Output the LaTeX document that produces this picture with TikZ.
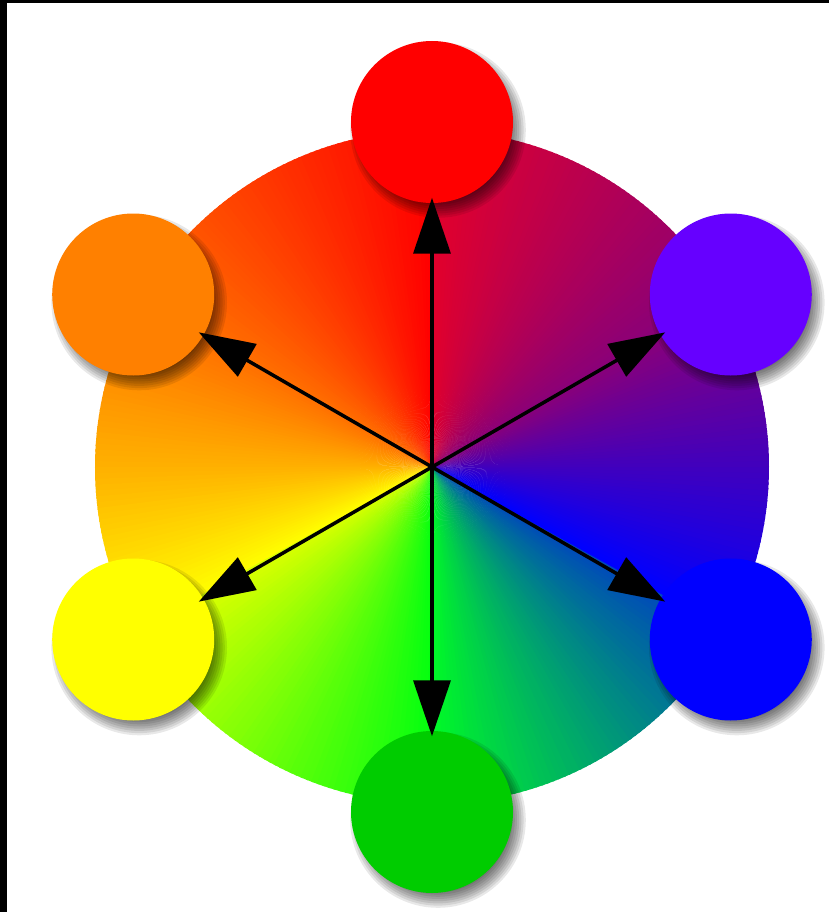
\documentclass[tikz,border=0pt]{standalone}
\definecolor{wRed}{HTML}{FF0000}
\definecolor{wOrange}{HTML}{FF7000}
\definecolor{wAmber}{HTML}{FFB200}
\definecolor{wYellow}{HTML}{FFFF00}
\definecolor{wLime}{HTML}{D8FF00}
\definecolor{wGreen}{HTML}{00FF10}
\definecolor{wGreenB}{HTML}{00F828}
\definecolor{wSteel}{HTML}{0046BC}
\definecolor{wBlue}{HTML}{0000FF}
\definecolor{wIndigo}{HTML}{4200BC}
\definecolor{wPurple}{HTML}{8A0078}
\definecolor{wCrimson}{HTML}{E4002A}
\definecolor{dotRed}{HTML}{FF0000}
\definecolor{dotOrange}{HTML}{FF8000}
\definecolor{dotYellow}{HTML}{FFFF00}
\definecolor{dotGreen}{HTML}{00CC00}
\definecolor{dotBlue}{HTML}{0000FF}
\definecolor{dotViolet}{HTML}{6600FF}
\usetikzlibrary{
	arrows.meta
}
\tikzset{
	dot/.style={circle, minimum size=1.62cm, inner sep=0pt, outer sep=0pt},
	shade/.style={black, opacity=0.09},
	spoke/.style={-{Triangle[length=0.56cm,width=0.37cm]}, line width=1pt,
		shorten >=-1.5pt}
}

\begin{document}
\begin{tikzpicture}
		% page and frame
		\fill[white] (-4.32,-4.45) rectangle (3.97,4.67);
		\fill[black] (-4.32,4.64) rectangle (3.97,4.67);
		\fill[black] (-4.32,-4.45) rectangle (-4.25,4.67);
		\coordinate (o) at (0,0);
		% colour wheel, one thin wedge per degree
		\foreach \a/\b/\ca/\cb in {90/150/wRed/wOrange, 150/180/wOrange/wAmber,
			180/209/wAmber/wYellow, 209/270/wLime/wGreen, 270/331/wGreenB/wSteel,
			331/360/wBlue/wIndigo, 360/390/wIndigo/wPurple, 390/450/wPurple/wCrimson}{
			\pgfmathtruncatemacro\bm{\b-1}
			\foreach \t in {\a,...,\bm}{
				\pgfmathtruncatemacro\p{100*(\t-\a)/(\b-\a)}
				\fill[\cb!\p!\ca] (o) -- (\t:3.37) arc[start angle=\t, end angle=\t+1.4, radius=3.37] -- cycle;
			}
		}
		% the six colour dots, each with a soft shadow
		\foreach \ang/\name/\col in {90/red/dotRed, 150/orange/dotOrange, 210/yellow/dotYellow,
			270/green/dotGreen, 330/blue/dotBlue, 30/violet/dotViolet}{
			\foreach \k in {1,...,8}{\fill[shade, shift={(\ang:3.45)}] (0.06,-0.08) circle[radius=0.9-0.022*\k];}
			\node[dot, fill=\col] (\name) at (\ang:3.45) {};
		}
		\foreach \name in {red,orange,yellow,green,blue,violet}{\draw[spoke] (o) -- (\name);}
	\end{tikzpicture}
\end{document}
